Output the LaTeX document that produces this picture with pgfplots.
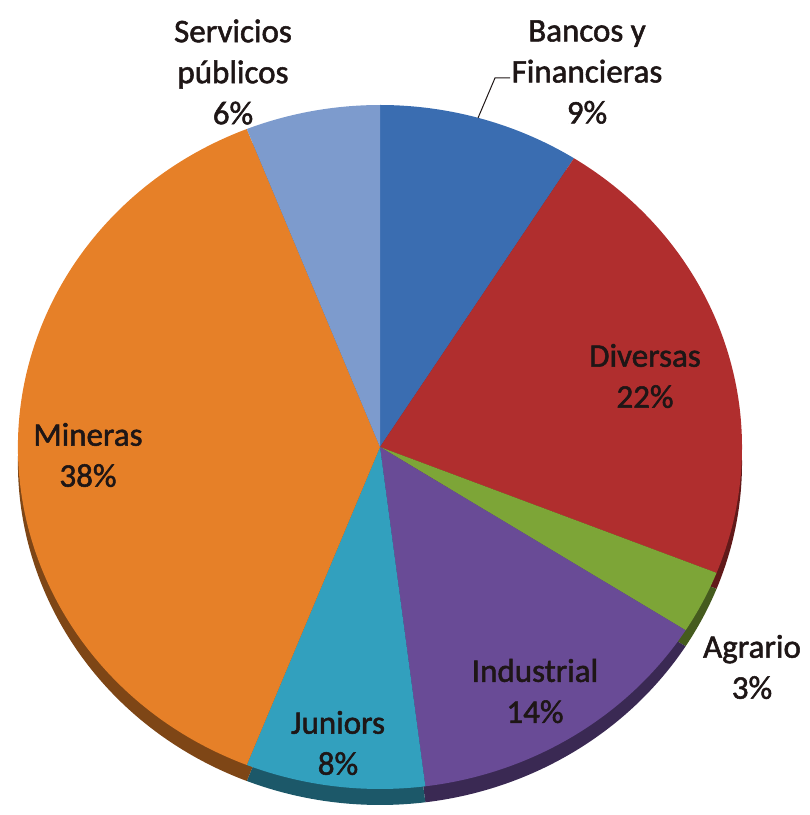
\documentclass[border=0pt]{standalone}
\usepackage{pgfplots}
\pgfplotsset{compat=1.18}
\usepackage{fontspec}
\setmainfont{Carlito}
\newfontfamily\labfont[FakeBold=1.6]{Carlito}
\definecolor{cBan}{RGB}{58,109,177}
\definecolor{cDiv}{RGB}{176,46,46}
\definecolor{cAgr}{RGB}{125,165,55}
\definecolor{cInd}{RGB}{105,75,150}
\definecolor{cJun}{RGB}{50,160,190}
\definecolor{cMin}{RGB}{230,128,40}
\definecolor{cSer}{RGB}{125,155,205}
\definecolor{txt}{RGB}{30,22,22}
\begin{document}
\begin{tikzpicture}
% percentages of each slice, clockwise from the top
\gdef\slicesBottom{}\gdef\slicesTop{}\gdef\angA{90}
\foreach \v/\c in {9/cBan,22/cDiv,3/cAgr,14/cInd,8/cJun,38/cMin,6/cSer}{%
  \pgfmathsetmacro\angB{\angA-3.6*\v}%
  \xdef\slicesBottom{\unexpanded\expandafter{\slicesBottom}\noexpand\fill[\c!55!black] (axis cs:380,352) -- ++(\angA:362pt and 342pt) arc[start angle=\angA,end angle=\angB,x radius=362pt,y radius=342pt] -- cycle;}%
  \xdef\slicesTop{\unexpanded\expandafter{\slicesTop}\noexpand\fill[\c] (axis cs:380,368) -- ++(\angA:362pt and 342pt) arc[start angle=\angA,end angle=\angB,x radius=362pt,y radius=342pt] -- cycle;}%
  \global\let\angA\angB
}
\begin{axis}[width=810pt,height=815pt,scale only axis,xmin=0,xmax=810,ymin=0,ymax=815,axis lines=none,ticks=none,clip=false,anchor=south west,at={(0,0)}]
\path (axis cs:0,0) rectangle (axis cs:810,815);
\slicesBottom
\slicesTop
\begin{scope}[every node/.style={font=\labfont\fontsize{33}{41}\selectfont,text=txt,align=center,inner sep=0pt}]
\node at (axis cs:233,743) {Servicios\\públicos\\6\%};
\node at (axis cs:587,743) {Bancos y\\Financieras\\9\%};
\node at (axis cs:645,439) {Diversas\\22\%};
\node at (axis cs:752,148) {Agrario\\3\%};
\node at (axis cs:535,124) {Industrial\\14\%};
\node at (axis cs:338,72) {Juniors\\8\%};
\node at (axis cs:88,360) {Mineras\\38\%};
\end{scope}
\draw[txt,line width=1pt] (axis cs:478,697) -- (axis cs:495,737) -- (axis cs:510,737);
\end{axis}
\pgfresetboundingbox
\useasboundingbox (0,0) rectangle (810pt,815pt);
\end{tikzpicture}
\end{document}
